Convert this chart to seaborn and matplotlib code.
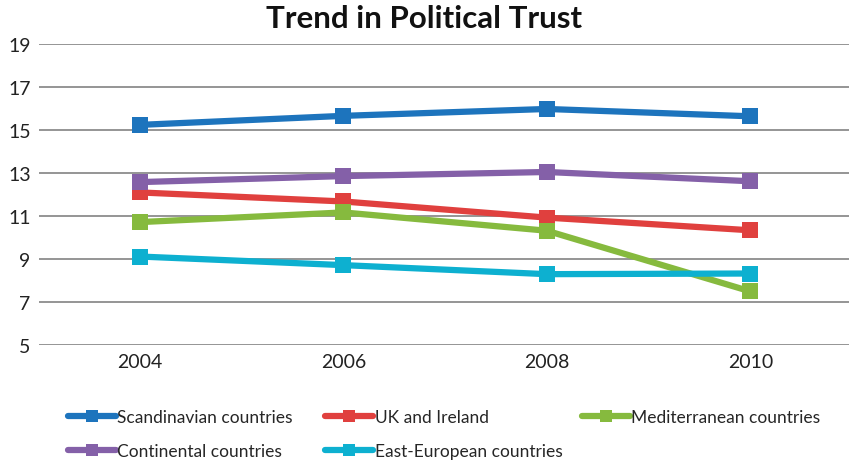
import pandas as pd
import matplotlib
matplotlib.use('Agg')
import matplotlib.pyplot as plt
import seaborn as sns
from matplotlib.lines import Line2D

# data
years = [2004, 2006, 2008, 2010]
scandinavian = [15.24, 15.66, 15.98, 15.64]
uk_ireland = [12.10, 11.68, 10.93, 10.34]
mediterranean = [10.72, 11.17, 10.32, 7.50]
continental = [12.58, 12.86, 13.05, 12.62]
east_european = [9.12, 8.72, 8.30, 8.33]

names = ['Scandinavian countries', 'UK and Ireland', 'Mediterranean countries',
         'Continental countries', 'East-European countries']
colors = ['#1d74bd', '#e0403e', '#86ba3e', '#8460a8', '#0db0d0']

df = pd.DataFrame({
    'year': years * 5,
    'trust': scandinavian + uk_ireland + mediterranean + continental + east_european,
    'group': [n for n in names for _ in years],
})

sns.set_style('white')
plt.rcParams['font.family'] = ['Lato', 'DejaVu Sans']

fig = plt.figure(figsize=(8.49, 4.64), dpi=100)
ax = fig.add_axes([0.046, 0.254, 0.954, 0.649])

palette = dict(zip(names, colors))
sns.lineplot(data=df, x='year', y='trust', hue='group', style='group',
             palette=palette, markers={n: 's' for n in names}, dashes=False,
             linewidth=4.5, markersize=11, markeredgewidth=0, ax=ax, legend=False)

ax.set_xlim(2003.01, 2010.97)
ax.set_ylim(5, 19)
ax.set_yticks(range(5, 20, 2))
ax.set_xticks(years)
ax.yaxis.grid(True, color='#8c8c8c', linewidth=1.3)
ax.set_axisbelow(True)
for s in ax.spines.values():
    s.set_visible(False)
ax.tick_params(axis='both', length=0, labelsize=14, colors='#222222')
ax.tick_params(axis='x', pad=6)
ax.tick_params(axis='y', pad=6)
ax.set_xlabel('')
ax.set_ylabel('')

fig.text(0.5, 0.958, 'Trend in Political Trust', ha='center', va='center',
         fontsize=22.5, fontweight='bold', color='#111111')

# legend: three columns placed like the reference
cols = [([0, 3], 0.080), ([1, 4], 0.383), ([2], 0.6855)]
for idx, xpos in cols:
    handles = [Line2D([], [], color=colors[i], linewidth=4.5, marker='s',
                      markersize=9, markeredgewidth=0) for i in idx]
    labels = [names[i] for i in idx]
    fig.legend(handles, labels, loc='upper left', bbox_to_anchor=(xpos, 0.117),
               frameon=False, fontsize=12.5, handlelength=2.75,
               handletextpad=0.1, labelspacing=1.05, borderpad=0,
               borderaxespad=0)

fig.savefig('out.png', dpi=100)
